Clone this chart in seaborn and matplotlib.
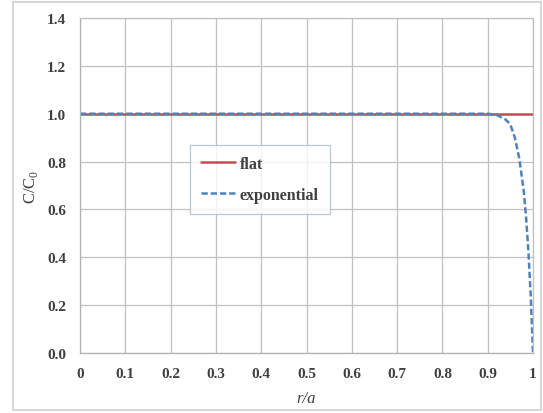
import numpy as np
import pandas as pd
import matplotlib.pyplot as plt
from matplotlib.patches import Rectangle
import seaborn as sns

# data
r_flat = [0.0, 0.1, 0.2, 0.3, 0.4, 0.5, 0.6, 0.7, 0.8, 0.9, 1.0]
c_flat = [1.0, 1.0, 1.0, 1.0, 1.0, 1.0, 1.0, 1.0, 1.0, 1.0, 1.0]
r_exp = [0.0, 0.1, 0.2, 0.3, 0.4, 0.5, 0.6, 0.7, 0.8, 0.9, 0.92, 0.94,
         0.95, 0.96, 0.97, 0.98, 0.985, 0.99, 0.995, 1.0]
c_exp = [1.0, 1.0, 1.0, 1.0, 1.0, 1.0, 1.0, 1.0, 1.0, 1.0, 0.995, 0.975,
         0.955, 0.9, 0.81, 0.67, 0.56, 0.42, 0.24, 0.0]
x_ticks = [0, 0.1, 0.2, 0.3, 0.4, 0.5, 0.6, 0.7, 0.8, 0.9, 1]
x_ticklabels = ["0", "0.1", "0.2", "0.3", "0.4", "0.5", "0.6", "0.7", "0.8", "0.9", "1"]
y_ticks = [0.0, 0.2, 0.4, 0.6, 0.8, 1.0, 1.2, 1.4]

df = pd.concat([
    pd.DataFrame({"r": r_flat, "C": c_flat, "profile": "flat"}),
    pd.DataFrame({"r": r_exp, "C": c_exp, "profile": "exponential"}),
])

sns.set_style("white")
plt.rcParams["font.family"] = ["Liberation Serif", "DejaVu Serif"]

fig = plt.figure(figsize=(5.43, 4.14), dpi=100)
ax = fig.add_axes([80 / 543, 1 - 354 / 414, 453 / 543, 335 / 414])

sns.lineplot(data=df, x="r", y="C", hue="profile", style="profile",
             palette={"flat": "#c0504d", "exponential": "#4f81bd"},
             dashes={"flat": "", "exponential": (2.5, 1.2)},
             linewidth=1.8, ax=ax, sort=False)

ax.set_xlim(0, 1)
ax.set_ylim(0, 1.4)
ax.set_xticks(x_ticks)
ax.set_xticklabels(x_ticklabels)
ax.set_yticks(y_ticks)
ax.set_yticklabels([f"{v:.1f}" for v in y_ticks])
ax.set_xticks(np.arange(0.05, 1.0, 0.1), minor=True)
ax.set_yticks(np.arange(0.04, 1.4, 0.04), minor=True)

ax.grid(True, which="major", color="#c0c0c0", linewidth=0.9)
for s in ax.spines.values():
    s.set_color("#b0b0b0")
    s.set_linewidth(0.9)
ax.spines["top"].set_color("#c0c0c0")
ax.spines["right"].set_color("#c0c0c0")

ax.tick_params(axis="both", which="major", direction="out", length=4, color="#a0a0a0",
               labelsize=11, labelcolor="#404040", pad=6)
ax.tick_params(axis="both", which="minor", direction="out", length=3, color="#a0a0a0")
for lab in ax.get_xticklabels() + ax.get_yticklabels():
    lab.set_fontweight("bold")

ax.set_xlabel("r/a", fontsize=12, fontstyle="italic", color="#404040", labelpad=7)
ax.set_ylabel("C/C$_\\mathregular{0}$", fontsize=12, color="#404040", labelpad=5)

leg = ax.legend(loc="upper left", bbox_to_anchor=(0.243, 0.622), frameon=True,
                fancybox=False, handlelength=2.1, labelspacing=0.95,
                borderpad=0.7, handletextpad=0.3, borderaxespad=0,
                prop={"family": "Liberation Serif", "weight": "bold", "size": 11.5})
leg.get_frame().set_edgecolor("#a9b9cc")
leg.get_frame().set_linewidth(0.9)
for t in leg.get_texts():
    t.set_color("#404040")

fig.patches.append(Rectangle((13 / 543, 3 / 414), 528 / 543, 408 / 414,
                             transform=fig.transFigure, fill=False,
                             edgecolor="#d0d0d0", linewidth=1.2))

fig.savefig("out.png", dpi=100)
